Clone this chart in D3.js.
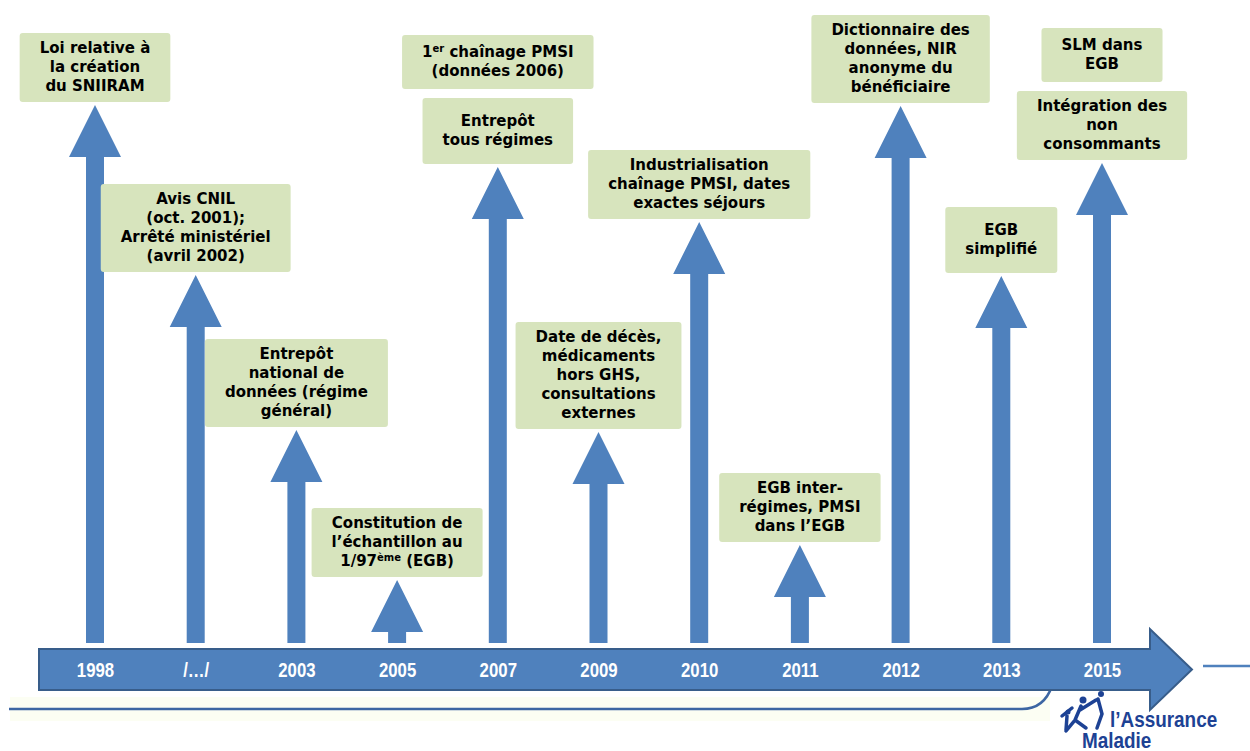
<!DOCTYPE html>
<html>
<head>
<meta charset="utf-8">
<title>SNIIRAM timeline</title>
<style>
  body { margin: 0; background: #fff; }
  svg { display: block; }
</style>
</head>
<body>
<script src="https://cdnjs.cloudflare.com/ajax/libs/d3/7.8.5/d3.min.js"></script>
<script>
// ---- data ----
var years = ["1998", "/…/", "2003", "2005", "2007", "2009", "2010", "2011", "2012", "2013", "2015"];

// height of each arrow tip above the time line
var levels = [538, 368, 213, 63, 476, 211, 421, 98, 537, 367, 480];

// text of the box sitting on each arrow ( ^xx = superscript )
var labels = [
    ["Loi relative à", "la création", "du SNIIRAM"],
    ["Avis CNIL", "(oct. 2001);", "Arrêté ministériel", "(avril 2002)"],
    ["Entrepôt", "national de", "données (régime", "général)"],
    ["Constitution de", "l’échantillon au", "1/97^ème (EGB)"],
    ["Entrepôt", "tous régimes"],
    ["Date de décès,", "médicaments", "hors GHS,", "consultations", "externes"],
    ["Industrialisation", "chaînage PMSI, dates", "exactes séjours"],
    ["EGB inter-", "régimes, PMSI", "dans l’EGB"],
    ["Dictionnaire des", "données, NIR", "anonyme du", "bénéficiaire"],
    ["EGB", "simplifié"],
    ["Intégration des", "non", "consommants"]
];

// second box stacked above, for some years
var extraLabels = {
    "2007": ["1^er chaînage PMSI", "(données 2006)"],
    "2015": ["SLM dans", "EGB"]
};

// ---- layout ----
var W = 1250, H = 751;
var base = 643;          // bottom of the arrow shafts
var lineH = 19;
var blue = "#4f81bd", dark = "#385d8a", green = "#d7e4bd";
var narrow = "'Liberation Sans', Arial, sans-serif";

var svg = d3.select("body").append("svg")
    .attr("width", W)
    .attr("height", H);

var x = d3.scalePoint()
    .domain(years)
    .range([95, 1102]);

var y = d3.scaleLinear()
    .domain([0, 600])
    .range([base, base - 600]);

var rows = years.map(function(yr, i) {
    return { year: yr, level: levels[i], lines: labels[i], extra: extraLabels[yr] };
});

// faint band + bottom rule
svg.append("rect")
    .attr("x", 10).attr("y", 697).attr("width", 1040).attr("height", 24)
    .attr("fill", "#fcfef3");
svg.append("path")
    .attr("d", "M9,709 H1022 Q1044,709 1052,686")
    .attr("fill", "none")
    .attr("stroke", "#3d66a3")
    .attr("stroke-width", 2.5);
svg.append("line")
    .attr("x1", 1203).attr("x2", W).attr("y1", 666).attr("y2", 666)
    .attr("stroke", blue).attr("stroke-width", 2.5);

// vertical arrows
var hw = 26, hh = 52, sw = 9;
svg.selectAll("path.arrow")
    .data(rows)
    .enter()
    .append("path")
    .attr("class", "arrow")
    .attr("fill", blue)
    .attr("d", function(d) {
        var cx = x(d.year), t = y(d.level), b = y(0);
        return "M" + (cx - sw) + "," + b +
               "V" + (t + hh) + "H" + (cx - hw) +
               "L" + cx + "," + t +
               "L" + (cx + hw) + "," + (t + hh) +
               "H" + (cx + sw) + "V" + b + "Z";
    });

// the time line arrow
svg.append("path")
    .attr("d", "M39,649 H1150 V629 L1192,669.5 L1150,710 V690 H39 Z")
    .attr("fill", blue)
    .attr("stroke", dark)
    .attr("stroke-width", 2);

var xAxis = svg.append("g")
    .attr("transform", "translate(0,670)")
    .call(d3.axisBottom(x).tickSize(0).tickPadding(0));
xAxis.select(".domain").remove();
xAxis.selectAll("text")
    .attr("y", 0)
    .attr("dy", "0.36em")
    .attr("transform", "scale(0.84,1)")
    .attr("fill", "#fff")
    .style("font-family", narrow)
    .style("font-weight", "bold")
    .style("font-size", "20px");

// ---- boxes ----
function addText(g, lines, cx, top, h) {
    var t = g.append("text")
        .attr("text-anchor", "middle")
        .style("font-family", "'DejaVu Sans', sans-serif")
        .style("font-weight", "bold")
        .style("font-size", "15px")
        .attr("fill", "#000");
    var y0 = top + h / 2 - lines.length * lineH / 2 + 14;
    lines.forEach(function(line, k) {
        var row = t.append("tspan").attr("x", cx).attr("y", y0 + k * lineH);
        var shift = 0;
        line.split(/(\^\S+)/).forEach(function(part) {
            if (!part) return;
            if (part[0] === "^") {
                row.append("tspan")
                    .attr("dy", -5)
                    .style("font-size", "10px")
                    .text(part.slice(1));
                shift = 5;
            } else {
                row.append("tspan").attr("dy", shift).text(part);
                shift = 0;
            }
        });
    });
    return t;
}

function addBox(lines, cx, bottom, minH) {
    var h = Math.max(minH, lines.length * lineH + 12);
    var top = bottom - h;
    var g = svg.append("g");
    var rect = g.append("rect");
    var t = addText(g, lines, cx, top, h);
    var w = t.node().getBBox().width + 40;
    rect.attr("x", cx - w / 2).attr("y", top)
        .attr("width", w).attr("height", h)
        .attr("rx", 3)
        .attr("fill", green);
    return top;
}

rows.forEach(function(d) {
    var cx = x(d.year);
    var top = addBox(d.lines, cx, y(d.level) - 3, 66);
    if (d.extra) addBox(d.extra, cx, top - 9, 54);
});

// ---- logo ----
var logo = svg.append("g").attr("fill", "#1d4294");
logo.append("text")
    .attr("transform", "translate(1110,727) scale(0.86,1)")
    .style("font-family", narrow)
    .style("font-weight", "bold").style("font-size", "22px")
    .text("l’Assurance");
logo.append("text")
    .attr("transform", "translate(1082,748) scale(0.86,1)")
    .style("font-family", narrow)
    .style("font-weight", "bold").style("font-size", "22px")
    .text("Maladie");
// little running figures
logo.append("circle").attr("cx", 1083).attr("cy", 700).attr("r", 3.5);
logo.append("circle").attr("cx", 1101).attr("cy", 694).attr("r", 3);
logo.append("circle").attr("cx", 1068).attr("cy", 712).attr("r", 2.5);
logo.append("path")
    .attr("fill", "none").attr("stroke", "#1d4294").attr("stroke-width", 3.5)
    .attr("stroke-linecap", "round")
    .attr("d", "M1081,706 L1075,720 L1066,731 M1075,720 L1086,728 M1080,710 L1096,700 M1072,708 L1062,716 M1067,716 L1066,730 M1098,699 L1102,714 L1097,728");
</script>
</body>
</html>
